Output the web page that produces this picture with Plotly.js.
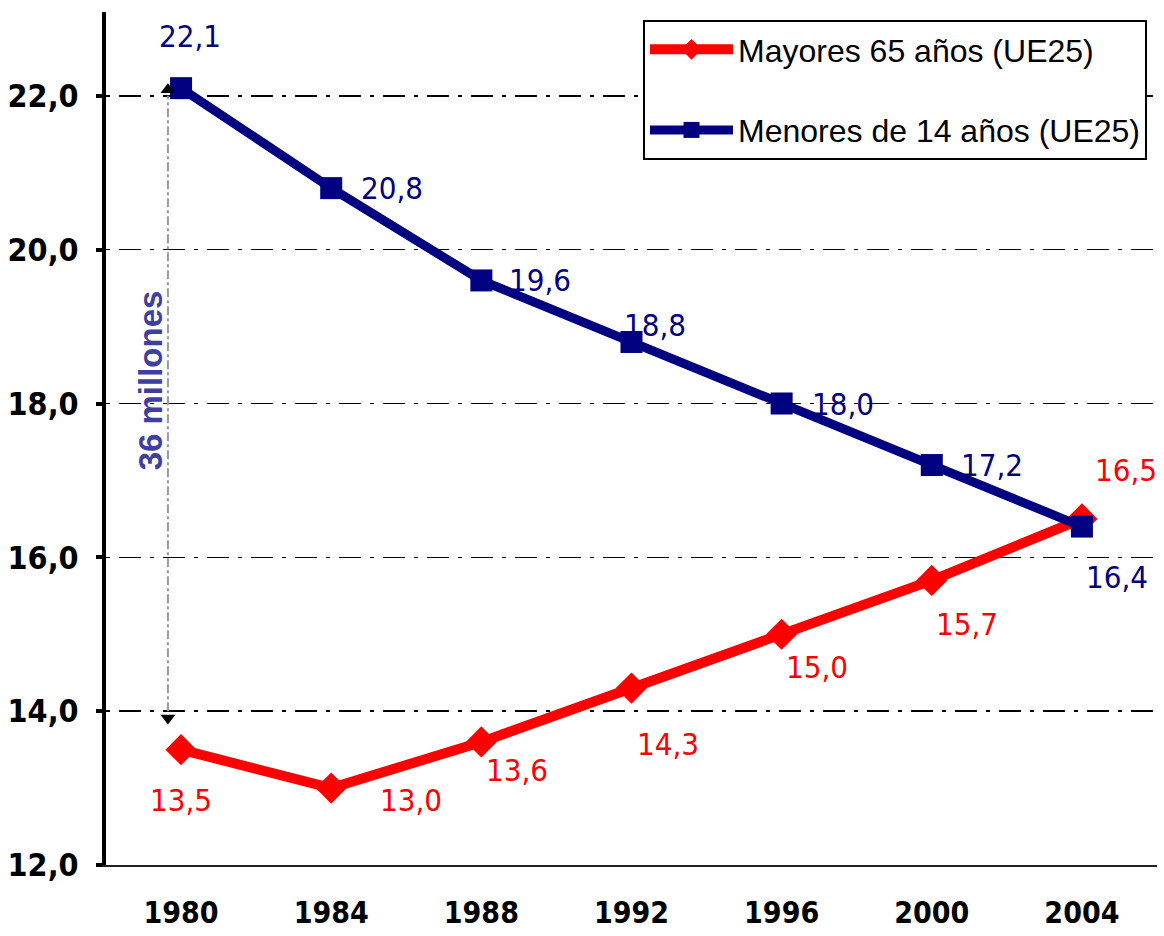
<!DOCTYPE html>
<html>
<head>
<meta charset="utf-8">
<script src="https://cdn.plot.ly/plotly-3.0.1.min.js"></script>
<style>html,body{margin:0;padding:0;background:#fff;}#chart{width:1164px;height:936px;}</style>
</head>
<body>
<div id="chart"></div>
<script>
// ---- data ----
const years = [1980, 1984, 1988, 1992, 1996, 2000, 2004];
const yearLabels = ['1980', '1984', '1988', '1992', '1996', '2000', '2004'];
const mayores65 = [13.5, 13.0, 13.6, 14.3, 15.0, 15.7, 16.5];
const menores14 = [22.1, 20.8, 19.6, 18.8, 18.0, 17.2, 16.4];
const seriesNames = ['Mayores 65 años (UE25)', 'Menores de 14 años (UE25)'];
const yTicks = [12, 14, 16, 18, 20, 22];
const bracketFrom = 22;   // top of "36 millones" span
const bracketTo = 14;     // bottom of span
const bracketText = '36 millones';

// ---- label placement (pixel offsets) ----
const mayDx = [0, 80, 36, 36, 35, 35, 44];
const mayDy = [-50, -12, -28, -56, -33, -44, 49];
const menDx = [9, 61, 59, 23, 61, 60, 35];
const menDy = [52, 0, 0, 17, 0, 0, -50];

const RED = '#FF0000', NAVY = '#000080';
const fmt = v => v.toFixed(1).replace('.', ',');
const labelFont = {family: '"DejaVu Sans Condensed", "DejaVu Sans", sans-serif', size: 31};
const yTickFont = {family: '"DejaVu Sans Condensed", "DejaVu Sans", sans-serif', size: 32, color: '#000', weight: 'bold'};
const xTickFont = {family: '"DejaVu Sans Condensed", "DejaVu Sans", sans-serif', size: 30, color: '#000', weight: 'bold'};

const traces = [
  {
    x: years, y: mayores65, name: seriesNames[0], type: 'scatter', mode: 'lines+markers',
    line: {color: RED, width: 10}, marker: {symbol: 'diamond', size: 24, color: RED},
    legendgroup: 'a', hoverinfo: 'x+y'
  },
  {
    x: years, y: menores14, name: seriesNames[1], type: 'scatter', mode: 'lines+markers',
    line: {color: NAVY, width: 9}, marker: {symbol: 'square', size: 22, color: NAVY},
    legendgroup: 'b', hoverinfo: 'x+y'
  },
  {
    x: [years[0] - 0.35, years[0] - 0.35], y: [bracketFrom + 0.08, bracketTo - 0.09],
    type: 'scatter', mode: 'markers', showlegend: false, hoverinfo: 'skip',
    marker: {symbol: ['triangle-up', 'triangle-down'], size: 13, color: '#000'}
  }
];

const annotations = [];
years.forEach((yr, i) => {
  annotations.push({x: yr, y: mayores65[i], text: fmt(mayores65[i]), showarrow: false,
    xshift: mayDx[i], yshift: mayDy[i], font: Object.assign({color: RED}, labelFont)});
  annotations.push({x: yr, y: menores14[i], text: fmt(menores14[i]), showarrow: false,
    xshift: menDx[i], yshift: menDy[i], font: Object.assign({color: NAVY}, labelFont)});
});
annotations.push({
  x: years[0] - 0.35, y: 18.3, text: bracketText, showarrow: false, textangle: -90,
  xshift: -18, font: {family: '"Liberation Sans", Arial, sans-serif', size: 33, color: '#3F3FA0', weight: 'bold'}
});

const layout = {
  width: 1164, height: 936,
  margin: {l: 106, r: 7, t: 12, b: 71, pad: 0, autoexpand: false},
  paper_bgcolor: '#fff', plot_bgcolor: '#fff',
  separators: ',.',
  showlegend: true,
  legend: {
    x: 0.9905, y: 0.9906, xanchor: 'right', yanchor: 'top',
    bordercolor: '#000', borderwidth: 2, bgcolor: '#fff',
    font: {family: '"Liberation Sans", Arial, sans-serif', size: 32, color: '#000'},
    traceorder: 'grouped', tracegroupgap: 36, itemwidth: 83
  },
  xaxis: {
    range: [1978, 2006], tickmode: 'array', tickvals: years, ticktext: yearLabels,
    showgrid: false, zeroline: false, showline: true, linecolor: '#222', linewidth: 2,
    ticks: '', tickfont: xTickFont, ticklabelstandoff: 20, fixedrange: true, automargin: false
  },
  yaxis: {
    range: [12, 23.09], tickmode: 'array', tickvals: yTicks, tickformat: '.1f',
    showgrid: true, gridcolor: '#000', gridwidth: 1.5, griddash: '4px,9px,22px,9px',
    zeroline: false, showline: true, linecolor: '#000', linewidth: 4,
    ticks: 'outside', ticklen: 6, tickwidth: 4, tickcolor: '#000',
    tickfont: yTickFont, ticklabelstandoff: 11, fixedrange: true, automargin: false
  },
  shapes: [{
    type: 'line', xref: 'x', yref: 'y', x0: years[0] - 0.35, x1: years[0] - 0.35,
    y0: bracketTo, y1: bracketFrom, line: {color: '#9a9a9a', width: 2, dash: 'dashdot'}
  }],
  annotations: annotations
};

Plotly.newPlot('chart', traces, layout, {displayModeBar: false, staticPlot: true});
</script>
</body>
</html>
